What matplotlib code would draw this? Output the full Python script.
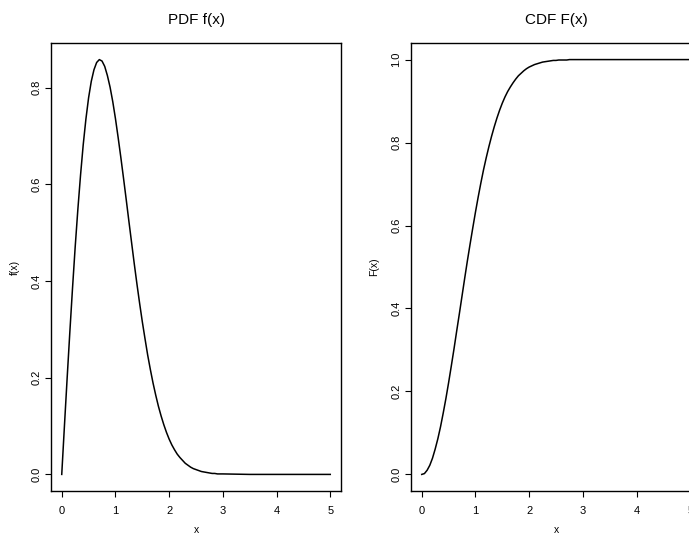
import matplotlib
matplotlib.use('Agg')
import matplotlib.pyplot as plt

plt.rcParams['font.family'] = ['Liberation Sans', 'DejaVu Sans']

# values
x_vals = [0.0, 0.05, 0.1, 0.15, 0.2, 0.25, 0.3, 0.35, 0.4, 0.45,
          0.5, 0.55, 0.6, 0.65, 0.7, 0.75, 0.8, 0.85, 0.9, 0.95,
          1.0, 1.05, 1.1, 1.15, 1.2, 1.25, 1.3, 1.35, 1.4, 1.45,
          1.5, 1.55, 1.6, 1.65, 1.7, 1.75, 1.8, 1.85, 1.9, 1.95,
          2.0, 2.05, 2.1, 2.15, 2.2, 2.25, 2.3, 2.35, 2.4, 2.45,
          2.5, 2.55, 2.6, 2.65, 2.7, 2.75, 2.8, 2.85, 2.9, 2.95,
          3.0, 3.5, 4.0, 4.5, 5.0]
pdf_vals = [0.0, 0.100, 0.198, 0.293, 0.384, 0.470, 0.548, 0.619, 0.682, 0.735,
            0.779, 0.813, 0.837, 0.852, 0.858, 0.855, 0.844, 0.825, 0.801, 0.771,
            0.736, 0.697, 0.656, 0.613, 0.569, 0.524, 0.480, 0.436, 0.394, 0.354,
            0.316, 0.281, 0.247, 0.217, 0.189, 0.164, 0.141, 0.121, 0.103, 0.087,
            0.073, 0.061, 0.051, 0.042, 0.035, 0.029, 0.023, 0.019, 0.015, 0.012,
            0.010, 0.008, 0.006, 0.005, 0.004, 0.003, 0.002, 0.002, 0.001, 0.001,
            0.001, 0.0, 0.0, 0.0, 0.0]
cdf_vals = [0.0, 0.002, 0.010, 0.022, 0.039, 0.061, 0.086, 0.115, 0.148, 0.183,
            0.221, 0.261, 0.302, 0.345, 0.387, 0.430, 0.473, 0.515, 0.555, 0.594,
            0.632, 0.668, 0.702, 0.734, 0.763, 0.790, 0.815, 0.838, 0.859, 0.878,
            0.895, 0.910, 0.923, 0.934, 0.944, 0.953, 0.961, 0.967, 0.973, 0.978,
            0.982, 0.985, 0.988, 0.990, 0.992, 0.994, 0.995, 0.996, 0.997, 0.998,
            0.998, 0.999, 0.999, 0.999, 0.999, 1.0, 1.0, 1.0, 1.0, 1.0,
            1.0, 1.0, 1.0, 1.0, 1.0]

x_ticks = [0, 1, 2, 3, 4, 5]
pdf_ticks = [0.0, 0.2, 0.4, 0.6, 0.8]
cdf_ticks = [0.0, 0.2, 0.4, 0.6, 0.8, 1.0]

W, H = 689, 538
fig = plt.figure(figsize=(W / 100, H / 100), dpi=100)


def r_axes(rect, xs, ys, yticks, title, ylabel):
    ax = fig.add_axes(rect)
    ax.plot(xs, ys, color='black', lw=1.1)
    xlo, xhi = min(xs), max(xs)
    ylo, yhi = min(ys), max(ys)
    px = 0.04 * (xhi - xlo)
    py = 0.04 * (yhi - ylo)
    ax.set_xlim(xlo - px, xhi + px)
    ax.set_ylim(ylo - py, yhi + py)
    ax.set_xticks(x_ticks)
    ax.set_xticklabels([str(t) for t in x_ticks])
    ax.set_yticks(yticks)
    ax.set_yticklabels(['%.1f' % t for t in yticks], rotation=90, va='center')
    ax.tick_params(length=4, width=0.8, labelsize=8)
    ax.tick_params(axis='x', pad=7)
    ax.tick_params(axis='y', pad=3)
    for s in ax.spines.values():
        s.set_linewidth(1.0)
    ax.set_title(title, fontsize=11, pad=14)
    ax.set_xlabel('x', fontsize=7.5, labelpad=6)
    ax.set_ylabel(ylabel, fontsize=7.5, labelpad=8.5)
    return ax


bottom = (H - 491) / H
height = (491 - 43) / H
r_axes([51 / W, bottom, 290 / W, height], x_vals, pdf_vals, pdf_ticks, 'PDF f(x)', 'f(x)')
r_axes([411 / W, bottom, 290 / W, height], x_vals, cdf_vals, cdf_ticks, 'CDF F(x)', 'F(x)')

plt.savefig('out.png', dpi=100)
